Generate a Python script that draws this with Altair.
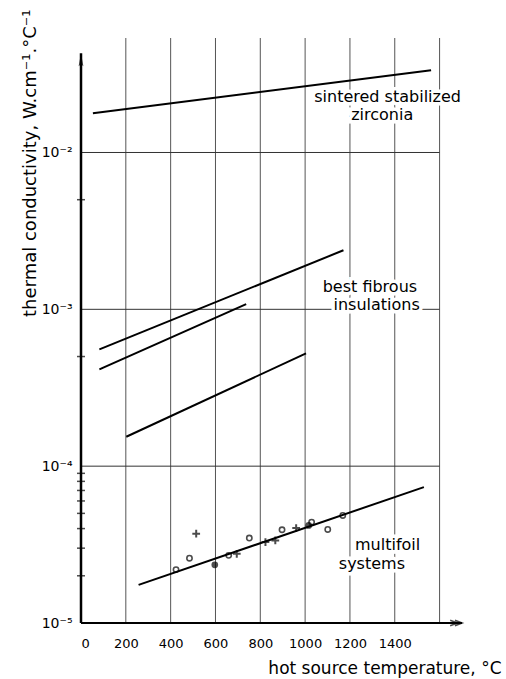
import altair as alt
import pandas as pd

FONT = "DejaVu Sans"

# ---- data ----
zirconia_x = [53, 1562]
zirconia_y = [0.0178, 0.0335]
fibrous1_x = [82, 1171]
fibrous1_y = [5.55e-4, 2.38e-3]
fibrous2_x = [82, 737]
fibrous2_y = [4.14e-4, 1.08e-3]
fibrous3_x = [202, 1004]
fibrous3_y = [1.54e-4, 5.24e-4]
multifoil_x = [257, 1530]
multifoil_y = [1.75e-5, 7.35e-5]

point_x = [424, 484, 514, 597, 659, 695, 751, 823, 867, 897, 960, 1016, 1029, 1101, 1168]
point_y = [2.19e-5, 2.59e-5, 3.71e-5, 2.35e-5, 2.70e-5, 2.76e-5, 3.48e-5, 3.28e-5,
           3.36e-5, 3.93e-5, 4.03e-5, 4.19e-5, 4.40e-5, 3.95e-5, 4.85e-5]
point_kind = ["o", "o", "+", "dot", "o", "+", "o", "+", "+", "o", "+", "dot", "o", "o", "o"]

x_ticks = [0, 200, 400, 600, 800, 1000, 1200, 1400]
x_grid = [200, 400, 600, 800, 1000, 1200, 1400, 1600]
y_ticks = [1e-5, 1e-4, 1e-3, 1e-2]
y_grid = [1e-4, 1e-3, 1e-2]
y_minor = [2e-5, 3e-5, 4e-5, 5e-5, 6e-5, 7e-5, 8e-5, 9e-5, 5e-4, 5e-3]

X_MIN, X_MAX = 0, 1700
Y_MIN, Y_MAX = 1e-5, 0.0537
Y_ARROW = 0.043
Y_ARROW_HEAD = 0.0381
X_ARROW_HEAD = 1674

ann_text = ["sintered stabilized", "zirconia", "best fibrous", "insulations", "multifoil", "systems"]
ann_x = [1368, 1344, 1289, 1319, 1368, 1298]
ann_y = [0.02254, 0.01726, 1.386e-3, 1.06e-3, 3.12e-5, 2.385e-5]

# ---- tables ----
lines = []
for name, xs, ys in [("zirconia", zirconia_x, zirconia_y), ("f1", fibrous1_x, fibrous1_y),
                     ("f2", fibrous2_x, fibrous2_y), ("f3", fibrous3_x, fibrous3_y),
                     ("multifoil", multifoil_x, multifoil_y)]:
    for xv, yv in zip(xs, ys):
        lines.append({"series": name, "x": xv, "y": yv})
lines_df = pd.DataFrame(lines)
pts_df = pd.DataFrame({"x": point_x, "y": point_y, "kind": point_kind})
vgrid_df = pd.DataFrame({"x": x_grid, "y": [Y_MIN] * len(x_grid), "y2": [Y_MAX] * len(x_grid)})
hgrid_df = pd.DataFrame({"x": [X_MIN] * len(y_grid), "x2": [1600] * len(y_grid), "y": y_grid})
minor_df = pd.DataFrame({"x": [0] * len(y_minor), "y": y_minor})
ann_df = pd.DataFrame({"x": ann_x, "y": ann_y, "text": ann_text})
yaxis_df = pd.DataFrame({"x": [0], "y": [Y_MIN], "y2": [Y_ARROW]})
xaxis_df = pd.DataFrame({"x": [X_MIN], "x2": [X_MAX], "y": [Y_MIN]})
yhead_df = pd.DataFrame({"x": [0], "y": [Y_ARROW_HEAD]})
xhead_df = pd.DataFrame({"x": [X_ARROW_HEAD], "y": [Y_MIN]})

xscale = alt.Scale(domain=[X_MIN, X_MAX], nice=False, zero=False)
yscale = alt.Scale(type="log", domain=[Y_MIN, Y_MAX], nice=False)

xaxis = alt.Axis(values=x_ticks, grid=False, ticks=False, domain=False, format="d",
                 labelFont=FONT, labelFontSize=13, labelColor="black", labelPadding=14,
                 title="hot source temperature, °C", titleFont=FONT, titleFontSize=17,
                 titleFontWeight="normal", titleColor="black", titleAnchor="start",
                 titleAlign="right", titleBaseline="alphabetic", titleX=420, titleY=50)
yaxis = alt.Axis(values=y_ticks, grid=False, ticks=False, domain=False,
                 labelFont=FONT, labelFontSize=14, labelColor="black", labelPadding=9,
                 labelExpr="['10⁻⁵','10⁻⁴','10⁻³','10⁻²'][round(log(datum.value)/LN10)+5]",
                 title="thermal conductivity, W.cm⁻¹.°C⁻¹", titleFont=FONT, titleFontSize=18,
                 titleFontWeight="normal", titleColor="black", titleAngle=270,
                 titleAlign="right", titleBaseline="alphabetic", titleAnchor="start",
                 titleX=-46, titleY=-29)

X = alt.X("x:Q", scale=xscale, axis=xaxis)
Y = alt.Y("y:Q", scale=yscale, axis=yaxis)

vgrid = alt.Chart(vgrid_df).mark_rule(color="#555555", strokeWidth=1).encode(
    x=X, y=Y, y2="y2:Q")
hgrid = alt.Chart(hgrid_df).mark_rule(color="#333333", strokeWidth=1).encode(
    x=X, x2="x2:Q", y=Y)

halo = alt.Chart(ann_df).mark_text(font=FONT, fontSize=16, stroke="white", strokeWidth=7,
                                   fill="white", align="center", baseline="middle").encode(
    x=X, y=Y, text="text:N")

data_lines = alt.Chart(lines_df).mark_line(color="black", strokeWidth=2).encode(
    x=X, y=Y, detail="series:N")

circ = alt.Chart(pts_df).transform_filter("datum.kind == 'o'").mark_point(
    shape="circle", filled=False, color="black", size=28, strokeWidth=1.6).encode(x=X, y=Y)
plus = alt.Chart(pts_df).transform_filter("datum.kind == '+'").mark_point(
    shape="M-1,0L1,0M0,-1L0,1", filled=False, color="black", size=60, strokeWidth=2).encode(x=X, y=Y)
dots = alt.Chart(pts_df).transform_filter("datum.kind == 'dot'").mark_point(
    shape="circle", filled=True, color="black", size=45).encode(x=X, y=Y)

labels = alt.Chart(ann_df).mark_text(font=FONT, fontSize=16, color="black",
                                     align="center", baseline="middle").encode(
    x=X, y=Y, text="text:N")

minor = alt.Chart(minor_df).mark_tick(orient="horizontal", color="black", size=8,
                                      thickness=1.5).encode(x=X, y=Y)

yaxis_line = alt.Chart(yaxis_df).mark_rule(color="black", strokeWidth=2.5).encode(
    x=X, y=Y, y2="y2:Q")
xaxis_line = alt.Chart(xaxis_df).mark_rule(color="black", strokeWidth=2).encode(
    x=X, x2="x2:Q", y=Y)
yhead = alt.Chart(yhead_df).mark_point(
    shape="M0,-1L0.3,0.6L0,0.35L-0.3,0.6Z", filled=True, color="black", size=256,
    strokeWidth=0).encode(x=X, y=Y)
xhead = alt.Chart(xhead_df).mark_point(
    shape="M-0.2,-0.45L1,0L-0.2,0.45M-1,-0.45L0.2,0L-1,0.45", filled=False, color="black",
    size=144, strokeWidth=1.5).encode(x=X, y=Y)

chart = alt.layer(vgrid, hgrid, halo, data_lines, circ, plus, dots, labels, minor,
                  yaxis_line, xaxis_line, yhead, xhead).properties(
    width=381, height=585,
    autosize=alt.AutoSizeParams(type="none"),
    padding={"left": 81, "top": 38, "right": 44, "bottom": 56},
    background="white",
).configure_view(stroke=None)

chart.save("out.html", embed_options={"renderer": "svg", "actions": False})
